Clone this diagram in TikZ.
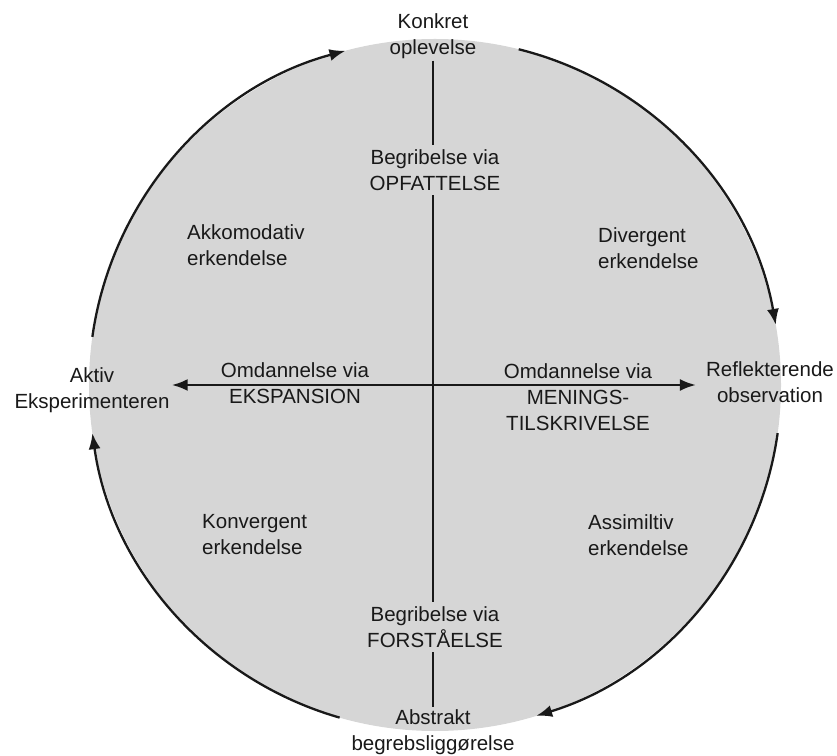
\documentclass[tikz,border=0pt]{standalone}
\usepackage{fontspec}
\setmainfont{Liberation Sans}
\usetikzlibrary{arrows.meta}
\definecolor{discgray}{gray}{0.84}
\definecolor{inkgray}{gray}{0.1}

\begin{document}
\begin{tikzpicture}[x=1pt,y=1pt,
        every node/.style={font=\fontsize{20.5}{26}\selectfont,align=center,inner sep=2pt,text=inkgray},
        cyclearc/.style={line width=2.3pt,draw=inkgray,-{Latex[length=16pt,width=12pt]}},
        axis/.style={line width=2.6pt,draw=inkgray}]
    \useasboundingbox (0,0) rectangle (837,755);
    \coordinate (o) at (435,370);
    \fill[discgray] (o) circle[radius=346pt];
    % the learning cycle, clockwise
    \draw[cyclearc] ([shift={(172:346pt)}]o) arc[start angle=172,end angle=105,radius=346pt];
    \draw[cyclearc] ([shift={(76:346pt)}]o) arc[start angle=76,end angle=10,radius=346pt];
    \draw[cyclearc] ([shift={(-8:346pt)}]o) arc[start angle=-8,end angle=-73,radius=346pt];
    \draw[cyclearc] ([shift={(254:346pt)}]o) arc[start angle=254,end angle=188,radius=346pt];
    % poles
    \node (konkret) at (433,719) {Konkret\\oplevelse};
    \node (abstrakt) at (433,23) {Abstrakt\\begrebsliggørelse};
    \node (aktiv) at (92,365) {Aktiv\\Eksperimenteren};
    \node (reflekt) at (770,373) {Reflekterende\\observation};
    % axes
    \draw[axis,{Latex[length=16pt,width=12pt]}-{Latex[length=16pt,width=12pt]},shorten >=8pt] (aktiv.east |- o) -- (reflekt.west |- o);
    \draw[axis] (konkret) -- (abstrakt);
    \node[fill=discgray,inner sep=4pt] (opfattelse) at (435,585) {Begribelse via\\OPFATTELSE};
    \node[fill=discgray,inner sep=4pt] (forstaelse) at (435,128) {Begribelse via\\FORSTÅELSE};
    \node (ekspansion) at (295,372) {Omdannelse via\\EKSPANSION};
    \node (menings) at (578,358) {Omdannelse via\\MENINGS-\\TILSKRIVELSE};
    % quadrants
    \node[anchor=west,align=left] (akkomodativ) at (185,510) {Akkomodativ\\erkendelse};
    \node[anchor=west,align=left] (divergent) at (596,507) {Divergent\\erkendelse};
    \node[anchor=west,align=left] (konvergent) at (200,220) {Konvergent\\erkendelse};
    \node[anchor=west,align=left] (assimiltiv) at (586,220) {Assimiltiv\\erkendelse};
\end{tikzpicture}
\end{document}
